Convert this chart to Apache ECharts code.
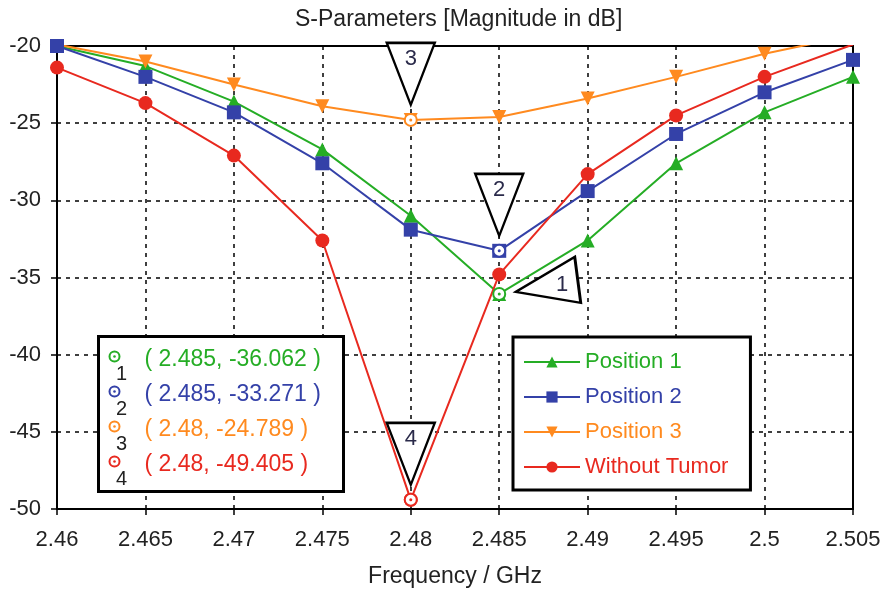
<!DOCTYPE html>
<html><head><meta charset="utf-8">
<script src="https://cdn.jsdelivr.net/npm/echarts@6/dist/echarts.min.js"></script>
<style>html,body{margin:0;padding:0;background:#fff}#c{width:882px;height:591px}</style>
</head><body><div id="c"></div>
<script>
const freq = [2.46, 2.465, 2.47, 2.475, 2.48, 2.485, 2.49, 2.495, 2.5, 2.505];
const pos1 = [-20.0, -21.3, -23.6, -26.7, -31.0, -36.062, -32.6, -27.6, -24.3, -22.0];
const pos2 = [-20.0, -22.0, -24.3, -27.6, -31.9, -33.271, -29.4, -25.7, -23.0, -20.9];
const pos3 = [-19.9, -21.0, -22.5, -23.9, -24.789, -24.6, -23.4, -22.0, -20.5, -19.3];
const noTumor = [-21.4, -23.7, -27.1, -32.6, -49.405, -34.8, -28.3, -24.5, -22.0, -19.9];
const seriesNames = ['Position 1', 'Position 2', 'Position 3', 'Without Tumor'];
const colors = ['#25ad25', '#3441a8', '#ff8a1f', '#e8291f'];
const markers = [
  {id: '1', x: 2.485, y: -36.062, s: 0},
  {id: '2', x: 2.485, y: -33.271, s: 1},
  {id: '3', x: 2.48, y: -24.789, s: 2},
  {id: '4', x: 2.48, y: -49.405, s: 3}
];
const FONT = 'Liberation Sans';
const chart = echarts.init(document.getElementById('c'));

const downTri = 'path://M0,0L48,0L24,62Z';
const leftTri = 'path://M0,35L59,0L65,46Z';

function markPointsFor(si) {
  const out = [];
  markers.filter(m => m.s === si).forEach(m => {
    out.push({coord: [m.x, m.y], symbol: 'circle', symbolSize: 12,
      itemStyle: {color: '#fff', borderColor: colors[si], borderWidth: 2}, label: {show: false}});
    out.push({coord: [m.x, m.y], symbol: 'circle', symbolSize: 3,
      itemStyle: {color: colors[si], borderWidth: 0}, label: {show: false}});
    if (m.id === '1') {
      out.push({coord: [m.x, m.y], symbol: leftTri, symbolSize: [65, 46], symbolOffset: [49, -14],
        itemStyle: {color: '#fff', borderColor: '#000', borderWidth: 2.5},
        label: {show: true, formatter: m.id, position: 'inside', offset: [14, 5], color: '#2a2a4a', fontSize: 22, fontFamily: FONT}});
    } else {
      out.push({coord: [m.x, m.y], symbol: downTri, symbolSize: [48, 62], symbolOffset: [0, -46],
        itemStyle: {color: '#fff', borderColor: '#000', borderWidth: 2.5},
        label: {show: true, formatter: m.id, position: 'inside', offset: [0, -15], color: '#2a2a4a', fontSize: 22, fontFamily: FONT}});
    }
  });
  return {symbolKeepAspect: false, data: out, silent: true, animation: false};
}

const allData = [pos1, pos2, pos3, noTumor];
const symbols = ['triangle', 'rect', 'triangle', 'circle'];
const sizes = [14, 14, 14, 14];
const rotates = [0, 0, 180, 0];

const series = allData.map((vals, i) => ({
  name: seriesNames[i],
  type: 'line',
  data: freq.map((f, k) => [f, vals[k]]),
  symbol: symbols[i],
  symbolSize: sizes[i],
  symbolRotate: rotates[i],
  showAllSymbol: true,
  clip: true,
  color: colors[i],
  lineStyle: {width: 2, color: colors[i]},
  itemStyle: {color: colors[i]},
  markPoint: markPointsFor(i),
  animation: false
}));

const fmtX = v => String(parseFloat(v.toFixed(3)));

const Z = 100;
const tableChildren = [{
  type: 'rect', z: Z, shape: {x: 0, y: 0, width: 245, height: 155},
  style: {fill: '#fff', stroke: '#000', lineWidth: 3}
}];
markers.forEach((m, i) => {
  const cy = 22 + i * 35;
  tableChildren.push({type: 'circle', z: Z + 1, shape: {cx: 16, cy: cy - 2, r: 5}, style: {fill: '#fff', stroke: colors[m.s], lineWidth: 2}});
  tableChildren.push({type: 'circle', z: Z + 1, shape: {cx: 16, cy: cy - 2, r: 1.3}, style: {fill: colors[m.s]}});
  tableChildren.push({type: 'text', z: Z + 1, x: 23, y: cy + 16, style: {text: m.id, fill: '#222', font: '20px ' + FONT, textAlign: 'center', textVerticalAlign: 'middle'}});
  tableChildren.push({type: 'text', z: Z + 1, x: 46, y: cy + 1, style: {text: '( ' + m.x + ', ' + m.y + ' )', fill: colors[m.s], font: '23px ' + FONT, textAlign: 'left', textVerticalAlign: 'middle'}});
});

chart.setOption({
  backgroundColor: '#fff',
  animation: false,
  title: {text: 'S-Parameters [Magnitude in dB]', left: 290, top: 3,
    textStyle: {fontFamily: FONT, fontSize: 23, fontWeight: 'normal', color: '#222'}},
  grid: {left: 57, right: 29, top: 46, bottom: 82, show: true, borderColor: '#000', borderWidth: 2,
    backgroundColor: 'transparent', containLabel: false, outerBoundsMode: 'none'},
  xAxis: {
    type: 'value', min: 2.46, max: 2.505, interval: 0.005,
    name: 'Frequency / GHz', nameLocation: 'middle', nameGap: 56,
    nameTextStyle: {fontFamily: FONT, fontSize: 23, color: '#222'},
    axisLine: {show: true, onZero: false, lineStyle: {color: '#000', width: 2}},
    axisTick: {show: true, length: 6, lineStyle: {color: '#000', width: 1.5}},
    axisLabel: {formatter: fmtX, fontFamily: FONT, fontSize: 22, color: '#222', margin: 20},
    splitLine: {show: true, lineStyle: {color: '#000', type: [4, 5], width: 1.5}}
  },
  yAxis: {
    type: 'value', min: -50, max: -20, interval: 5,
    axisLine: {show: true, onZero: false, lineStyle: {color: '#000', width: 2}},
    axisTick: {show: true, length: 6, lineStyle: {color: '#000', width: 1.5}},
    axisLabel: {fontFamily: FONT, fontSize: 22, color: '#222', margin: 16},
    splitLine: {show: true, lineStyle: {color: '#000', type: [4, 5], width: 1.5}}
  },
  legend: {
    orient: 'vertical', left: 513, top: 337,
    data: seriesNames,
    backgroundColor: '#fff', borderColor: '#000', borderWidth: 3,
    padding: [14, 22, 12, 10],
    itemWidth: 56, itemHeight: 14, itemGap: 13,
    itemTextGap: 10,
    textStyle: {fontFamily: FONT, fontSize: 22, color: 'inherit'},
    selectedMode: false
  },
  graphic: [{type: 'group', left: 97, top: 335, z: Z, children: tableChildren}],
  series: series
});
</script></body></html>
